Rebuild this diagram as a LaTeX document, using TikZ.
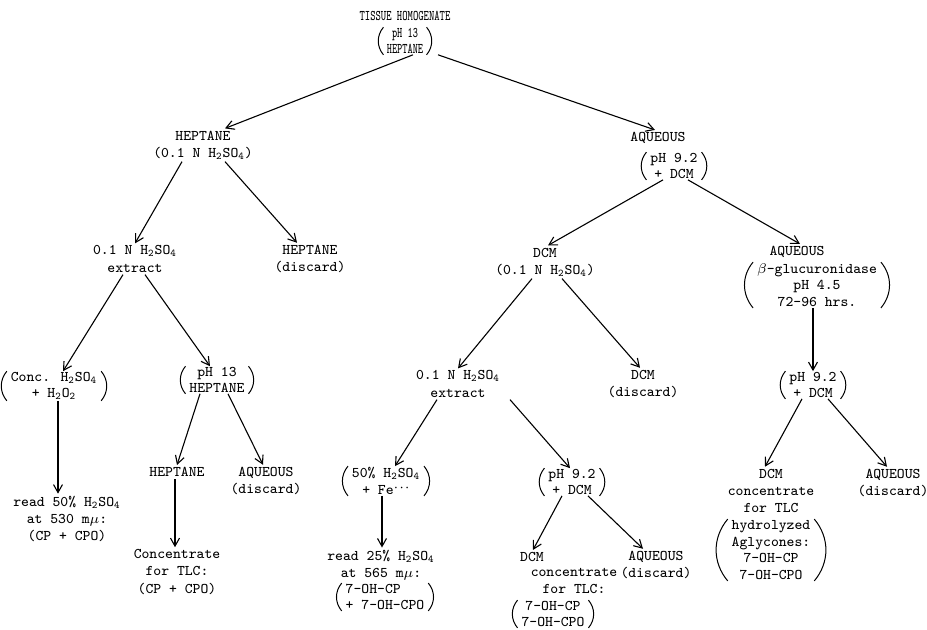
\documentclass[tikz,border=0pt]{standalone}
\usepackage{tikz}
\usetikzlibrary{arrows.meta}
\newcommand{\hso}{H\textsubscript{2}SO\textsubscript{4}}
\tikzset{
  txt/.style={font=\fontsize{7.4}{8.6}\selectfont\ttfamily, align=center, inner sep=1pt},
  paren/.style={txt, font=\fontsize{7.4}{7.8}\selectfont\ttfamily, inner xsep=1.8pt, inner ysep=0.5pt},
  parenlang/.style={paren, font=\fontsize{7.4}{8.3}\selectfont\ttfamily},
  arr/.style={line width=0.55pt, -{Straight Barb[length=4pt,width=4.5pt]}}
}

\begin{document}
\begin{tikzpicture}[x=0.5pt, y=-0.5pt]
    \useasboundingbox (0,0) rectangle (927,629);
    % Ausgang
    \node[txt] (title) at (405,16) {\scalebox{0.68}[1]{TISSUE HOMOGENATE}};
    \node[paren, inner xsep=1.5pt] (rootp) at (405,41) {\scalebox{0.66}[1]{pH 13}\\\scalebox{0.66}[1]{HEPTANE}};
    % erste Stufe
    \node[txt] (hep) at (203,145) {HEPTANE\\(0.1 N \hso)};
    \node[txt] (aq) at (658,138) {AQUEOUS};
    \node[paren] (aqp) at (674,166) {pH 9.2\\+ DCM};
    % Heptan-Zweig
    \node[txt] (hx) at (135,259) {0.1 N \hso\\extract};
    \node[txt] (hd) at (310,259) {HEPTANE\\(discard)};
    \node[paren] (conc) at (54,386) {Conc. \hso\\+ H\textsubscript{2}O\textsubscript{2}};
    \node[paren] (hp2) at (217,380) {pH 13\\HEPTANE};
    \node[txt] (read1) at (67,519) {read 50\% \hso\\at 530 m$\mu$:\\(CP + CPO)};
    \node[txt] (hep3) at (177,472) {HEPTANE};
    \node[txt] (aqd1) at (266,481) {AQUEOUS\\(discard)};
    \node[txt] (tlc1) at (177,572) {Concentrate\\for TLC:\\(CP + CPO)};
    % DCM-Zweig
    \node[txt] (dcm) at (545,262) {DCM\\(0.1 N \hso)};
    \node[txt] (dx) at (458,384) {0.1 N \hso\\extract};
    \node[txt] (dd) at (643,384) {DCM\\(discard)};
    \node[parenlang] (fe) at (386,481) {50\% \hso\\+ Fe\raisebox{1.6pt}{\smash{$\cdot\!\cdot\!\cdot$}}};
    \node[paren] (p92b) at (572,482) {pH 9.2\\+ DCM};
    \node[txt] (read2) at (381,565) {read 25\% \hso\\at 565 m$\mu$:};
    \node[paren, align=left] (read2p) at (385,597) {7-OH-CP\\+ 7-OH-CPO};
    \node[txt] (dcm3) at (532,557) {DCM};
    \node[txt] (dcm3t) at (574,581) {concentrate\\for TLC:};
    \node[paren] (dcm3p) at (553,614) {7-OH-CP\\7-OH-CPO};
    \node[txt] (aqd2) at (656,565) {AQUEOUS\\(discard)};
    % Hydrolyse-Zweig
    \node[txt] (aq2) at (797,252) {AQUEOUS};
    \node[parenlang] (aq2p) at (817,285) {$\beta$-glucuronidase\\pH 4.5\\72-96 hrs.};
    \node[paren] (p92) at (813,385) {pH 9.2\\+ DCM};
    \node[txt] (dcm4) at (771,491) {DCM\\concentrate\\for TLC};
    \node[parenlang] (dcm4p) at (771,550) {hydrolyzed\\Aglycones:\\7-OH-CP\\7-OH-CPO};
    \node[txt] (aqd3) at (893,483) {AQUEOUS\\(discard)};
    % Klammern
    \foreach \k in {rootp,aqp,conc,hp2,fe,p92b,read2p,dcm3p,aq2p,p92,dcm4p}{
      \draw[line width=0.5pt] (\k.north west) to[bend right=40] (\k.south west);
      \draw[line width=0.5pt] (\k.north east) to[bend left=40] (\k.south east);
    }
    % Pfeile
    \draw[arr] ([xshift=4pt]rootp.south) -- ([xshift=11pt]hep.north);
    \draw[arr] ([xshift=16.5pt]rootp.south) -- ([xshift=-1.5pt]aq.north);
    \draw[arr] ([xshift=-10.5pt]hep.south) -- (hx.north);
    \draw[arr] ([xshift=11pt]hep.south) -- ([xshift=-6.5pt]hd.north);
    \draw[arr] ([xshift=-5.5pt]aqp.south) -- ([xshift=1.5pt]dcm.north);
    \draw[arr] ([xshift=7pt]aqp.south) -- ([xshift=1.5pt]aq2.north);
    \draw[arr] ([xshift=-6pt]hx.south) -- ([xshift=4.5pt]conc.north);
    \draw[arr] ([xshift=5pt]hx.south) -- ([xshift=-3.5pt]hp2.north);
    \draw[arr] ([xshift=-6.5pt]dcm.south) -- (dx.north);
    \draw[arr] ([xshift=8.5pt]dcm.south) -- ([xshift=-1.5pt]dd.north);
    \draw[arr] ([xshift=-2pt]aq2p.south) -- (p92.north);
    \draw[arr] ([xshift=2pt]conc.south) -- ([xshift=-4.5pt]read1.north);
    \draw[arr] ([xshift=-8.5pt]hp2.south) -- (hep3.north);
    \draw[arr] ([xshift=5.5pt]hp2.south) -- ([xshift=-1.5pt]aqd1.north);
    \draw[arr] ([xshift=-1pt]hep3.south) -- ([xshift=-1pt]tlc1.north);
    \draw[arr] ([xshift=-10.5pt]dx.south) -- ([xshift=4.5pt]fe.north);
    \draw[arr] ([xshift=26pt]dx.south) -- ([xshift=-1pt]p92b.north);
    \draw[arr] ([xshift=-2pt]fe.south) -- ([xshift=0.5pt]read2.north);
    \draw[arr] ([xshift=-5pt]p92b.south) -- ([xshift=0.5pt]dcm3.north);
    \draw[arr] ([xshift=8pt]p92b.south) -- ([xshift=-6.5pt]aqd2.north);
    \draw[arr] ([xshift=-5.5pt]p92.south) -- ([xshift=-3pt]dcm4.north);
    \draw[arr] ([xshift=7.5pt]p92.south) -- ([xshift=-3pt]aqd3.north);
\end{tikzpicture}
\end{document}
